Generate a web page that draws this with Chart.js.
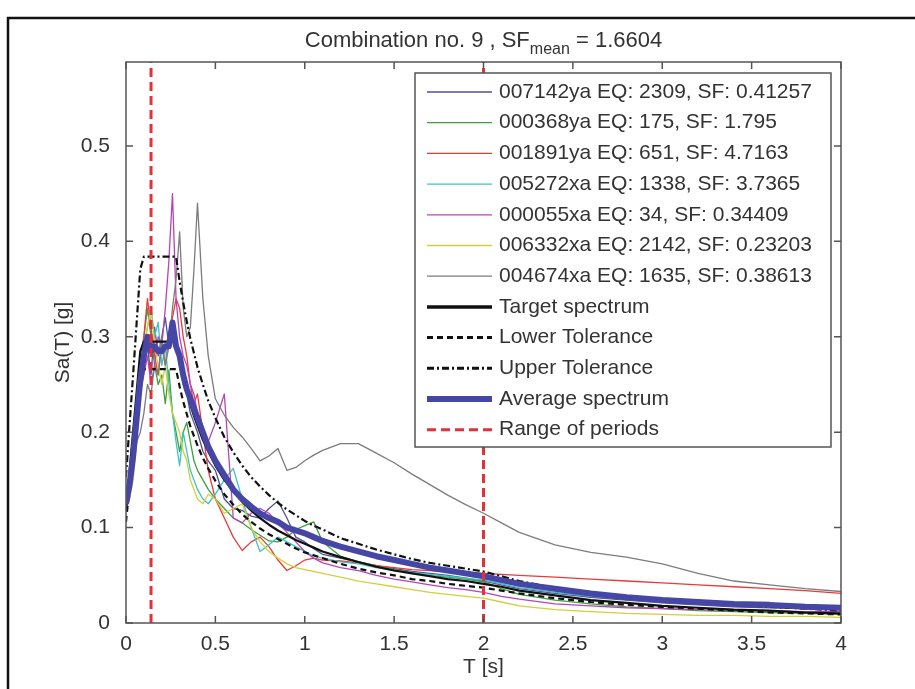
<!DOCTYPE html>
<html>
<head>
<meta charset="utf-8">
<script src="https://cdn.jsdelivr.net/npm/chart.js@4.4.1/dist/chart.umd.min.js"></script>
<style>
  html, body { margin: 0; padding: 0; background: #fff; }
  #wrap { width: 915px; height: 689px; }
</style>
</head>
<body>
<div id="wrap"><canvas id="spectra" width="915" height="689"></canvas></div>
<script>
// periods T [s], shared by every curve
const periods = [0, 0.02, 0.04, 0.06, 0.08, 0.1, 0.12, 0.14, 0.16, 0.18, 0.2, 0.22, 0.24, 0.26, 0.28, 0.3,
  0.32, 0.34, 0.36, 0.38, 0.4, 0.43, 0.46, 0.5, 0.55, 0.6, 0.65, 0.7, 0.75, 0.8, 0.85, 0.9, 0.95, 1.0,
  1.05, 1.1, 1.2, 1.3, 1.4, 1.5, 1.6, 1.7, 1.8, 1.9, 2.0, 2.1, 2.2, 2.4, 2.6, 2.8, 3.0, 3.2, 3.4, 3.6, 3.8, 4.0];

// scaled record spectra Sa(T) [g]
const rec007142 = [0.13, 0.15, 0.19, 0.22, 0.25, 0.27, 0.29, 0.26, 0.31, 0.28, 0.3, 0.32, 0.29, 0.31, 0.3, 0.27,
  0.25, 0.24, 0.22, 0.21, 0.2, 0.18, 0.17, 0.16, 0.13, 0.12, 0.118, 0.112, 0.11, 0.12, 0.128, 0.11, 0.09, 0.085,
  0.078, 0.072, 0.068, 0.064, 0.06, 0.057, 0.054, 0.052, 0.05, 0.047, 0.044, 0.04, 0.036, 0.031, 0.027, 0.024, 0.021, 0.019, 0.017, 0.016, 0.015, 0.014];
const rec000368 = [0.12, 0.14, 0.17, 0.22, 0.28, 0.3, 0.33, 0.3, 0.27, 0.25, 0.26, 0.23, 0.265, 0.22, 0.2, 0.18,
  0.2, 0.21, 0.19, 0.17, 0.16, 0.15, 0.14, 0.13, 0.12, 0.11, 0.105, 0.098, 0.092, 0.086, 0.085, 0.09, 0.098, 0.102,
  0.106, 0.085, 0.07, 0.064, 0.06, 0.056, 0.053, 0.05, 0.048, 0.046, 0.043, 0.036, 0.03, 0.024, 0.02, 0.017, 0.015, 0.013, 0.012, 0.011, 0.01, 0.009];
const rec001891 = [0.12, 0.13, 0.16, 0.2, 0.25, 0.3, 0.34, 0.31, 0.28, 0.26, 0.29, 0.27, 0.3, 0.32, 0.34, 0.33,
  0.3, 0.28, 0.25, 0.23, 0.24, 0.2, 0.16, 0.13, 0.11, 0.09, 0.076, 0.085, 0.09, 0.08, 0.066, 0.055, 0.06, 0.066,
  0.068, 0.066, 0.065, 0.063, 0.06, 0.058, 0.056, 0.055, 0.054, 0.053, 0.052, 0.051, 0.05, 0.048, 0.046, 0.044, 0.042, 0.04, 0.038, 0.036, 0.034, 0.031];
const rec005272 = [0.13, 0.15, 0.18, 0.22, 0.26, 0.29, 0.31, 0.33, 0.3, 0.315, 0.27, 0.29, 0.25, 0.22, 0.19, 0.165,
  0.2, 0.18, 0.16, 0.15, 0.14, 0.13, 0.125, 0.135, 0.15, 0.162, 0.13, 0.1, 0.075, 0.082, 0.09, 0.085, 0.08, 0.075,
  0.07, 0.068, 0.064, 0.062, 0.058, 0.055, 0.053, 0.051, 0.049, 0.047, 0.045, 0.041, 0.037, 0.032, 0.028, 0.025, 0.022, 0.02, 0.018, 0.017, 0.016, 0.015];
const rec000055 = [0.13, 0.14, 0.16, 0.2, 0.24, 0.26, 0.28, 0.25, 0.27, 0.3, 0.29, 0.33, 0.38, 0.45, 0.34, 0.3,
  0.28, 0.27, 0.25, 0.24, 0.22, 0.2, 0.19, 0.21, 0.24, 0.11, 0.105, 0.115, 0.12, 0.115, 0.105, 0.095, 0.085, 0.075,
  0.068, 0.063, 0.058, 0.055, 0.05, 0.046, 0.043, 0.04, 0.037, 0.035, 0.032, 0.028, 0.025, 0.02, 0.018, 0.016, 0.015, 0.014, 0.013, 0.013, 0.012, 0.012];
const rec006332 = [0.12, 0.13, 0.15, 0.19, 0.24, 0.29, 0.31, 0.33, 0.29, 0.27, 0.25, 0.27, 0.24, 0.22, 0.21, 0.2,
  0.18, 0.17, 0.15, 0.14, 0.13, 0.125, 0.135, 0.13, 0.115, 0.12, 0.125, 0.1, 0.085, 0.075, 0.068, 0.062, 0.058, 0.056,
  0.054, 0.052, 0.048, 0.044, 0.041, 0.038, 0.035, 0.032, 0.03, 0.028, 0.026, 0.022, 0.018, 0.014, 0.012, 0.01, 0.009, 0.008, 0.008, 0.007, 0.007, 0.006];
const rec004674 = [0.12, 0.14, 0.16, 0.19, 0.2, 0.22, 0.25, 0.24, 0.27, 0.26, 0.3, 0.27, 0.29, 0.33, 0.36, 0.41,
  0.33, 0.3, 0.31, 0.37, 0.44, 0.34, 0.28, 0.235, 0.218, 0.205, 0.195, 0.183, 0.17, 0.175, 0.183, 0.16, 0.163, 0.17,
  0.176, 0.181, 0.188, 0.188, 0.178, 0.168, 0.156, 0.145, 0.134, 0.124, 0.115, 0.105, 0.095, 0.082, 0.074, 0.069, 0.062, 0.052, 0.044, 0.04, 0.036, 0.033];

// design spectrum and tolerance band
const targetSpectrum = [0.118, 0.16, 0.201, 0.243, 0.285, 0.295, 0.295, 0.295, 0.295, 0.295, 0.295, 0.295, 0.295, 0.295, 0.295, 0.275,
  0.258, 0.243, 0.229, 0.217, 0.207, 0.192, 0.18, 0.165, 0.15, 0.138, 0.127, 0.118, 0.11, 0.103, 0.097, 0.092, 0.087, 0.083,
  0.079, 0.075, 0.069, 0.064, 0.059, 0.055, 0.052, 0.049, 0.046, 0.044, 0.041, 0.038, 0.034, 0.029, 0.024, 0.021, 0.018, 0.016, 0.014, 0.013, 0.011, 0.01];
const lowerTolerance = [0.106, 0.144, 0.181, 0.219, 0.257, 0.266, 0.266, 0.266, 0.266, 0.266, 0.266, 0.266, 0.266, 0.266, 0.266, 0.248,
  0.232, 0.219, 0.206, 0.196, 0.186, 0.173, 0.162, 0.149, 0.135, 0.124, 0.114, 0.106, 0.099, 0.093, 0.088, 0.083, 0.078, 0.074,
  0.071, 0.068, 0.062, 0.057, 0.053, 0.05, 0.046, 0.044, 0.041, 0.039, 0.037, 0.034, 0.031, 0.026, 0.022, 0.019, 0.017, 0.015, 0.013, 0.011, 0.01, 0.009];
const upperTolerance = [0.153, 0.208, 0.261, 0.316, 0.371, 0.384, 0.384, 0.384, 0.384, 0.384, 0.384, 0.384, 0.384, 0.384, 0.384, 0.358,
  0.336, 0.316, 0.298, 0.283, 0.268, 0.25, 0.233, 0.215, 0.195, 0.179, 0.165, 0.153, 0.143, 0.134, 0.126, 0.119, 0.113, 0.107,
  0.102, 0.098, 0.089, 0.083, 0.077, 0.072, 0.067, 0.063, 0.06, 0.057, 0.054, 0.049, 0.044, 0.037, 0.032, 0.027, 0.024, 0.021, 0.019, 0.017, 0.015, 0.013];
const averageSpectrum = [0.125, 0.145, 0.175, 0.215, 0.255, 0.28, 0.3, 0.285, 0.29, 0.285, 0.285, 0.29, 0.29, 0.315, 0.29, 0.28,
  0.26, 0.245, 0.235, 0.225, 0.215, 0.2, 0.185, 0.17, 0.155, 0.14, 0.13, 0.122, 0.115, 0.11, 0.106, 0.1, 0.097, 0.094,
  0.09, 0.086, 0.08, 0.075, 0.07, 0.066, 0.062, 0.058, 0.055, 0.052, 0.049, 0.045, 0.041, 0.036, 0.031, 0.027, 0.024, 0.022, 0.02, 0.019, 0.017, 0.016];

// limits of the period range used for matching
const rangeOfPeriods = [0.14, 2.0];

const recordLabels = ['007142ya EQ: 2309, SF: 0.41257', '000368ya EQ: 175, SF: 1.795', '001891ya EQ: 651, SF: 4.7163',
  '005272xa EQ: 1338, SF: 3.7365', '000055xa EQ: 34, SF: 0.34409', '006332xa EQ: 2142, SF: 0.23203', '004674xa EQ: 1635, SF: 0.38613'];
const xTicks = [0, 0.5, 1, 1.5, 2, 2.5, 3, 3.5, 4];
const yTicks = [0, 0.1, 0.2, 0.3, 0.4, 0.5];
const yTop = 0.588;

const FONT = "'Liberation Sans', Arial, sans-serif";
const INK = '#333';

function pts(vals) {
  return vals.map((v, i) => ({x: periods[i], y: v}));
}

const rangePts = [];
rangeOfPeriods.forEach((t, i) => {
  if (i) rangePts.push({x: t, y: null});
  rangePts.push({x: t, y: 0}, {x: t, y: yTop});
});

const recordValues = [rec007142, rec000368, rec001891, rec005272, rec000055, rec006332, rec004674];
const recordColors = ['#50509a', '#3f9f3f', '#e83a3a', '#3cc3c3', '#b545b5', '#d0d03a', '#7c7c7c'];

let datasets = recordValues.map((vals, i) => ({
  label: recordLabels[i], data: pts(vals), borderColor: recordColors[i], borderWidth: 1.3
}));
datasets.push(
  {label: 'Target spectrum', data: pts(targetSpectrum), borderColor: '#111', borderWidth: 2.2, legendWidth: 3.5},
  {label: 'Lower Tolerance', data: pts(lowerTolerance), borderColor: '#111', borderWidth: 2.2, borderDash: [6, 4], legendWidth: 3},
  {label: 'Upper Tolerance', data: pts(upperTolerance), borderColor: '#111', borderWidth: 2.2, borderDash: [7, 3, 2, 3], legendWidth: 3},
  {label: 'Average spectrum', data: pts(averageSpectrum), borderColor: '#4646a6', borderWidth: 6},
  {label: 'Range of periods', data: rangePts, borderColor: '#e0323c', borderWidth: 3, borderDash: [9, 5]}
);
// later entries sit on top, as in the source figure
datasets.forEach((d, i) => { d.order = datasets.length - i; d.backgroundColor = d.borderColor; });

const tickText = v => String(Math.round(v * 10) / 10);

const decor = {
  id: 'decor',
  beforeDraw(chart) {
    const ctx = chart.ctx;
    ctx.save();
    ctx.fillStyle = '#fff';
    ctx.fillRect(0, 0, chart.width, chart.height);
    // outer frame
    ctx.strokeStyle = '#111';
    ctx.lineWidth = 2.5;
    ctx.beginPath();
    ctx.moveTo(8, chart.height + 5);
    ctx.lineTo(8, 18);
    ctx.lineTo(chart.width + 5, 18);
    ctx.stroke();
    ctx.restore();
  },
  afterDatasetsDraw(chart) {
    const {ctx, chartArea: a, scales: {x, y}} = chart;
    ctx.save();
    // axes box with inward ticks on all sides
    ctx.strokeStyle = '#555';
    ctx.lineWidth = 1.5;
    ctx.strokeRect(a.left, a.top, a.right - a.left, a.bottom - a.top);
    const tl = 7;
    ctx.beginPath();
    xTicks.forEach(v => {
      const px = x.getPixelForValue(v);
      ctx.moveTo(px, a.bottom); ctx.lineTo(px, a.bottom - tl);
      ctx.moveTo(px, a.top); ctx.lineTo(px, a.top + tl);
    });
    yTicks.forEach(v => {
      const py = y.getPixelForValue(v);
      ctx.moveTo(a.left, py); ctx.lineTo(a.left + tl, py);
      ctx.moveTo(a.right, py); ctx.lineTo(a.right - tl, py);
    });
    ctx.stroke();

    // legend
    const w = 416, h = 374;
    const lx = a.right - 10 - w, ly = a.top + 11;
    ctx.fillStyle = '#fff';
    ctx.fillRect(lx, ly, w, h);
    ctx.strokeStyle = '#555';
    ctx.lineWidth = 1.5;
    ctx.strokeRect(lx, ly, w, h);
    ctx.font = '21px ' + FONT;
    ctx.textBaseline = 'middle';
    ctx.textAlign = 'left';
    const pitch = 30.7;
    chart.data.datasets.forEach((d, i) => {
      const cy = ly + 19 + i * pitch;
      ctx.strokeStyle = d.borderColor;
      ctx.lineWidth = d.legendWidth || d.borderWidth;
      ctx.setLineDash(d.borderDash || []);
      ctx.beginPath();
      ctx.moveTo(lx + 12, cy);
      ctx.lineTo(lx + 77, cy);
      ctx.stroke();
      ctx.setLineDash([]);
      ctx.fillStyle = INK;
      ctx.fillText(d.label, lx + 84, cy);
    });
    ctx.restore();
  },
  afterDraw(chart) {
    const {ctx, chartArea: a} = chart;
    ctx.save();
    ctx.fillStyle = INK;
    ctx.textBaseline = 'alphabetic';
    // title with subscript
    const cx = (a.left + a.right) / 2;
    const p1 = 'Combination no. 9 , SF', p2 = 'mean', p3 = ' = 1.6604';
    ctx.font = '22px ' + FONT;
    const w1 = ctx.measureText(p1).width, w3 = ctx.measureText(p3).width;
    ctx.font = '16px ' + FONT;
    const w2 = ctx.measureText(p2).width;
    const tx = cx - (w1 + w2 + w3) / 2;
    const base = 47;
    ctx.font = '22px ' + FONT;
    ctx.fillText(p1, tx, base);
    ctx.font = '16px ' + FONT;
    ctx.fillText(p2, tx + w1, base + 7);
    ctx.font = '22px ' + FONT;
    ctx.fillText(p3, tx + w1 + w2, base);
    // axis titles
    ctx.font = '21px ' + FONT;
    ctx.textAlign = 'center';
    ctx.textBaseline = 'middle';
    ctx.fillText('T [s]', cx, 667);
    ctx.translate(63, (a.top + a.bottom) / 2);
    ctx.rotate(-Math.PI / 2);
    ctx.fillText('Sa(T) [g]', 0, 0);
    ctx.restore();
  }
};

new Chart(document.getElementById('spectra').getContext('2d'), {
  type: 'line',
  data: {datasets: datasets},
  options: {
    responsive: false,
    animation: false,
    devicePixelRatio: 1,
    elements: {point: {radius: 0}, line: {tension: 0, borderJoinStyle: 'round'}},
    layout: {padding: {left: 0, top: 62, right: 74, bottom: 0}},
    plugins: {legend: {display: false}, tooltip: {enabled: false}},
    scales: {
      x: {
        type: 'linear', min: 0, max: 4,
        afterFit(s) { s.height = 66; },
        afterBuildTicks(s) { s.ticks = xTicks.map(v => ({value: v})); },
        grid: {display: false}, border: {display: false},
        ticks: {padding: 1, color: INK, font: {family: FONT, size: 21}, maxRotation: 0, callback: tickText}
      },
      y: {
        type: 'linear', min: 0, max: yTop,
        afterFit(s) { s.width = 126; },
        afterBuildTicks(s) { s.ticks = yTicks.map(v => ({value: v})); },
        grid: {display: false}, border: {display: false},
        ticks: {padding: 8, color: INK, font: {family: FONT, size: 21}, callback: tickText}
      }
    }
  },
  plugins: [decor]
});
</script>
</body>
</html>
